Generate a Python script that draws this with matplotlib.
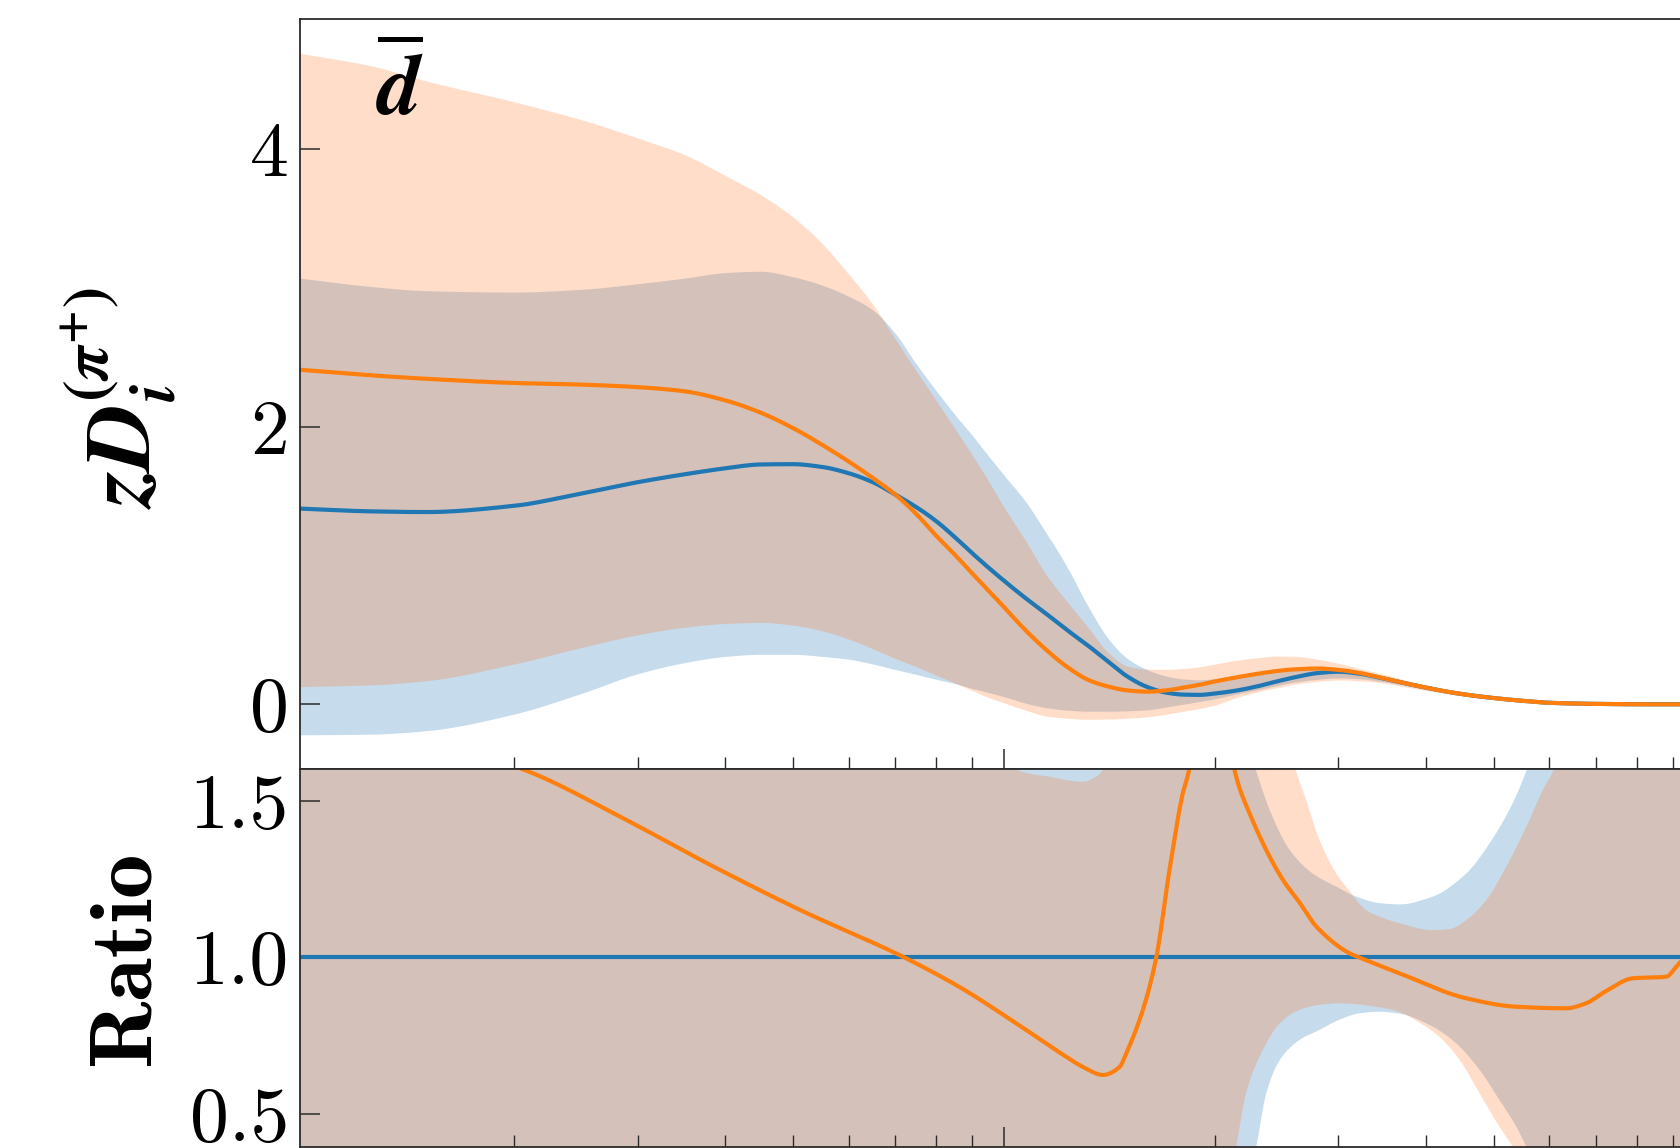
import numpy as np
import matplotlib
matplotlib.use("Agg")
import matplotlib.pyplot as plt
from matplotlib.ticker import LogLocator, NullFormatter, FixedLocator, FixedFormatter

# ---------------- distribution panel: z D(z) with uncertainty bands ----------------
z_grid = [0.0099, 0.0125, 0.015, 0.02, 0.025, 0.03, 0.035, 0.04, 0.045, 0.05,
          0.055, 0.06, 0.065, 0.07, 0.075, 0.08, 0.085, 0.09, 0.095, 0.1,
          0.107, 0.115, 0.123, 0.132, 0.141, 0.15, 0.16, 0.17, 0.18, 0.19,
          0.2, 0.215, 0.23, 0.245, 0.26, 0.28, 0.3, 0.32, 0.345, 0.37,
          0.4, 0.43, 0.46, 0.5, 0.55, 0.6, 0.66, 0.73, 0.82, 0.92, 1.0]

blue_mid = [1.41, 1.39, 1.385, 1.43, 1.52, 1.60, 1.657, 1.70, 1.728, 1.73,
            1.71, 1.665, 1.60, 1.51, 1.42, 1.32, 1.206, 1.09, 0.985, 0.89,
            0.77, 0.65, 0.535, 0.42, 0.305, 0.20, 0.125, 0.085, 0.07, 0.068,
            0.078, 0.10, 0.13, 0.165, 0.195, 0.225, 0.235, 0.222, 0.19, 0.156,
            0.12, 0.09, 0.067, 0.045, 0.025, 0.011, 0.005, 0.002, 0.0, 0.0, 0.0]
blue_hi = [3.07, 3.01, 2.98, 2.97, 2.99, 3.03, 3.07, 3.11, 3.12, 3.08,
           3.02, 2.94, 2.84, 2.67, 2.45, 2.26, 2.09, 1.94, 1.79, 1.65,
           1.47, 1.23, 0.99, 0.70, 0.47, 0.33, 0.25, 0.205, 0.183, 0.177,
           0.185, 0.21, 0.235, 0.255, 0.268, 0.27, 0.255, 0.238, 0.205, 0.17,
           0.132, 0.098, 0.072, 0.048, 0.027, 0.012, 0.006, 0.002, 0.0007, 0.0, 0.0]
blue_lo = [-0.22, -0.215, -0.19, -0.07, 0.08, 0.22, 0.30, 0.345, 0.36, 0.36,
           0.345, 0.325, 0.29, 0.25, 0.215, 0.18, 0.15, 0.115, 0.085, 0.055,
           0.01, -0.025, -0.042, -0.05, -0.05, -0.047, -0.04, -0.02, 0.0, 0.02,
           0.04, 0.075, 0.105, 0.135, 0.16, 0.18, 0.19, 0.185, 0.165, 0.14,
           0.108, 0.08, 0.06, 0.039, 0.022, 0.009, 0.004, 0.001, 0.0, 0.0, 0.0]

orange_mid = [2.41, 2.37, 2.345, 2.315, 2.303, 2.285, 2.255, 2.19, 2.10, 1.99,
              1.87, 1.75, 1.63, 1.51, 1.37, 1.215, 1.08, 0.945, 0.82, 0.70,
              0.54, 0.39, 0.27, 0.175, 0.127, 0.10, 0.091, 0.10, 0.12, 0.14,
              0.165, 0.195, 0.22, 0.24, 0.252, 0.258, 0.248, 0.228, 0.192, 0.156,
              0.12, 0.09, 0.067, 0.045, 0.025, 0.011, 0.005, 0.002, 0.0, 0.0, 0.0]
orange_hi = [4.69, 4.60, 4.49, 4.34, 4.21, 4.08, 3.96, 3.81, 3.67, 3.51,
             3.32, 3.10, 2.88, 2.63, 2.40, 2.19, 1.99, 1.80, 1.61, 1.42,
             1.19, 0.93, 0.74, 0.55, 0.37, 0.275, 0.253, 0.252, 0.258, 0.27,
             0.29, 0.318, 0.336, 0.348, 0.345, 0.325, 0.295, 0.26, 0.22, 0.18,
             0.14, 0.105, 0.078, 0.052, 0.03, 0.014, 0.007, 0.003, 0.001, 0.0, 0.0]
orange_lo = [0.127, 0.14, 0.17, 0.29, 0.41, 0.50, 0.555, 0.582, 0.59, 0.57,
             0.53, 0.47, 0.40, 0.33, 0.27, 0.21, 0.155, 0.10, 0.05, 0.01,
             -0.04, -0.085, -0.10, -0.108, -0.106, -0.10, -0.09, -0.072, -0.05, -0.03,
             -0.005, 0.05, 0.09, 0.12, 0.145, 0.165, 0.175, 0.17, 0.155, 0.13,
             0.10, 0.075, 0.055, 0.036, 0.02, 0.008, 0.003, 0.001, 0.0, 0.0, 0.0]

# ---------------- ratio panel ----------------
ratio_blue_z = [0.0099, 1.0]
ratio_blue = [1.0, 1.0]

ratio_orange_z = [0.0099, 0.015, 0.0209, 0.0289, 0.0385, 0.0512, 0.072, 0.0864,
                  0.1041, 0.1227, 0.1295, 0.1384, 0.1462, 0.1494, 0.1578, 0.1649,
                  0.1722, 0.1799, 0.1835, 0.197, 0.2134, 0.224, 0.25, 0.264,
                  0.279, 0.311, 0.325, 0.3665, 0.4565, 0.538, 0.634, 0.6765,
                  0.72, 0.789, 0.881, 0.91, 1.0]
ratio_orange = [1.75, 1.70, 1.595, 1.439, 1.29, 1.151, 1.0, 0.905,
                0.789, 0.682, 0.65, 0.624, 0.65, 0.693, 0.832, 1.0,
                1.279, 1.524, 1.595, 2.3, 1.595, 1.46, 1.247, 1.175,
                1.098, 1.013, 0.995, 0.949, 0.869, 0.842, 0.837, 0.853,
                0.89, 0.933, 0.938, 0.970, 1.08]

ratio_blue_hi_z = [0.0099, 0.1, 0.2, 0.21, 0.222, 0.229, 0.2394, 0.2556, 0.2755,
                   0.2978, 0.318, 0.3434, 0.3666, 0.409, 0.4565, 0.4997, 0.5345,
                   0.556, 0.58, 0.62, 1.0]
ratio_blue_hi = [3.0, 2.8, 2.2, 1.88, 1.69, 1.595, 1.47, 1.343, 1.268,
                 1.226, 1.194, 1.173, 1.169, 1.194, 1.268, 1.385, 1.503,
                 1.595, 1.71, 1.9, 3.0]
ratio_blue_lo_z = [0.0099, 0.19, 0.205, 0.218, 0.229, 0.2366, 0.2474, 0.264, 0.2818,
                   0.3006, 0.3213, 0.3434, 0.3666, 0.409, 0.4417, 0.477, 0.509,
                   0.538, 0.556, 0.6, 0.7, 1.0]
ratio_blue_lo = [-1.0, -0.5, -0.2, 0.2, 0.395, 0.565, 0.672, 0.736, 0.768,
                 0.80, 0.821, 0.826, 0.82, 0.778, 0.725, 0.64, 0.544,
                 0.459, 0.395, 0.25, -0.2, -1.0]

ratio_orange_hi_z = [0.0099, 0.09, 0.1, 0.1041, 0.1161, 0.1295, 0.1354, 0.1384, 0.145,
                     0.16, 0.2, 0.24, 0.25, 0.261, 0.2697, 0.2818, 0.2978, 0.3075,
                     0.3287, 0.3434, 0.3666, 0.409, 0.432, 0.4565, 0.4875, 0.5206,
                     0.556, 0.587, 0.607, 0.65, 1.0]
ratio_orange_hi = [3.0, 1.9, 1.68, 1.6, 1.577, 1.561, 1.577, 1.6, 1.75,
                   2.2, 2.6, 1.9, 1.75, 1.595, 1.503, 1.375, 1.268, 1.226,
                   1.151, 1.13, 1.109, 1.087, 1.09, 1.119, 1.183, 1.29,
                   1.417, 1.535, 1.595, 1.8, 3.0]
ratio_orange_lo_z = [0.0099, 0.19, 0.2, 0.2145, 0.2214, 0.234, 0.2474, 0.264, 0.2818,
                     0.3006, 0.3434, 0.3666, 0.3875, 0.418, 0.4467, 0.477, 0.509,
                     0.532, 0.6, 0.7, 1.0]
ratio_orange_lo = [-1.0, -0.3, 0.0, 0.395, 0.565, 0.704, 0.789, 0.832, 0.848,
                   0.853, 0.84, 0.825, 0.797, 0.746, 0.672, 0.565, 0.459,
                   0.395, 0.2, -0.3, -1.0]

upper_ticks = [0, 2, 4]
upper_ticklabels = ["0", "2", "4"]
lower_ticks = [0.5, 1.0, 1.5]
lower_ticklabels = ["0.5", "1.0", "1.5"]
x_major_ticks = [0.1, 1.0]

BLUE = "#1f77b4"
ORANGE = "#ff7f0e"
BLUE_BAND = "#1f77b4"
ORANGE_BAND = "#ff7828"
BAND_ALPHA = 0.25
SPINE = "#2b2b2b"
TICK_FONT = "cmr10"
TICK_SIZE = 56


def smooth_log(z, v, n=600):
    """Monotone cubic Hermite curve through (z, v), traced in log10(z)."""
    x = np.log10(np.asarray(z, dtype=float))
    y = np.asarray(v, dtype=float)
    h = np.diff(x)
    d = np.diff(y) / h
    m = np.zeros_like(y)
    m[0], m[-1] = d[0], d[-1]
    for k in range(1, len(y) - 1):
        if d[k - 1] * d[k] > 0:
            w1 = 2 * h[k] + h[k - 1]
            w2 = h[k] + 2 * h[k - 1]
            m[k] = (w1 + w2) / (w1 / d[k - 1] + w2 / d[k])
    xs = np.linspace(x[0], x[-1], n)
    i = np.clip(np.searchsorted(x, xs, side="right") - 1, 0, len(h) - 1)
    t = (xs - x[i]) / h[i]
    h00 = 2 * t**3 - 3 * t**2 + 1
    h10 = t**3 - 2 * t**2 + t
    h01 = -2 * t**3 + 3 * t**2
    h11 = t**3 - t**2
    ys = h00 * y[i] + h10 * h[i] * m[i] + h01 * y[i + 1] + h11 * h[i] * m[i + 1]
    return 10**xs, ys


W, H = 1681, 1148
fig = plt.figure(figsize=(W / 100, H / 100), dpi=100)

left = 300 / W
width = 1405 / W
ax_top = fig.add_axes([left, (H - 769) / H, width, (769 - 19) / H])
ax_bot = fig.add_axes([left, (H - 1146.5) / H, width, (1146.5 - 769) / H])

# distribution panel
zs, b_lo = smooth_log(z_grid, blue_lo)
_, b_hi = smooth_log(z_grid, blue_hi)
_, o_lo = smooth_log(z_grid, orange_lo)
_, o_hi = smooth_log(z_grid, orange_hi)
ax_top.fill_between(zs, b_lo, b_hi, color=BLUE_BAND, alpha=BAND_ALPHA, lw=0)
ax_top.fill_between(zs, o_lo, o_hi, color=ORANGE_BAND, alpha=BAND_ALPHA, lw=0)
ax_top.plot(*smooth_log(z_grid, blue_mid), color=BLUE, lw=3.0)
ax_top.plot(*smooth_log(z_grid, orange_mid), color=ORANGE, lw=3.0)


# ratio panel
def band_polygon(ax, zh, vh, zl, vl, color):
    xh, yh = smooth_log(zh, vh)
    xl, yl = smooth_log(zl, vl)
    ax.fill(np.concatenate([xh, xl[::-1]]), np.concatenate([yh, yl[::-1]]),
            color=color, alpha=BAND_ALPHA, lw=0)


band_polygon(ax_bot, ratio_blue_hi_z, ratio_blue_hi, ratio_blue_lo_z, ratio_blue_lo, BLUE_BAND)
band_polygon(ax_bot, ratio_orange_hi_z, ratio_orange_hi, ratio_orange_lo_z, ratio_orange_lo, ORANGE_BAND)
ax_bot.plot(ratio_blue_z, ratio_blue, color=BLUE, lw=3.0)
ax_bot.plot(*smooth_log(ratio_orange_z, ratio_orange, n=1200), color=ORANGE, lw=3.0)

for ax in (ax_top, ax_bot):
    ax.set_xscale("log")
    ax.set_xlim(0.0099, 1.0)
    ax.xaxis.set_major_locator(FixedLocator(x_major_ticks))
    ax.xaxis.set_minor_locator(LogLocator(base=10, subs=np.arange(2, 10), numticks=20))
    ax.xaxis.set_minor_formatter(NullFormatter())
    ax.tick_params(which="both", direction="in", top=False, right=False,
                   labelbottom=False, color=SPINE)
    ax.tick_params(which="major", length=14.4, width=1.1, pad=8)
    ax.tick_params(which="minor", length=8.5, width=1.0)
    for sp in ax.spines.values():
        sp.set_color(SPINE)
        sp.set_linewidth(1.3)

ax_top.set_ylim(-0.466, 4.937)
ax_top.yaxis.set_major_locator(FixedLocator(upper_ticks))
ax_top.yaxis.set_major_formatter(FixedFormatter(upper_ticklabels))
ax_bot.set_ylim(0.3955, 1.6016)
ax_bot.yaxis.set_major_locator(FixedLocator(lower_ticks))
ax_bot.yaxis.set_major_formatter(FixedFormatter(lower_ticklabels))

for ax in (ax_top, ax_bot):
    for lab in ax.get_yticklabels():
        lab.set_fontfamily(TICK_FONT)
        lab.set_fontsize(TICK_SIZE)

# panel tag and axis titles
ax_top.text(0.0712, 0.872, r"$\overline{\mathbfit{d}}$", transform=ax_top.transAxes,
            ha="center", va="baseline", fontsize=62, math_fontfamily="stix")
fig.text(118 / W, 1 - 398 / H,
         r"$\mathbfit{zD}_{\mathbfit{i}}^{\mathbf{(}\mathbfit{\pi}^{\mathbf{+}}\mathbf{)}}$",
         rotation=90, ha="center", va="center", fontsize=66, math_fontfamily="stix")
fig.text(126 / W, 1 - 958 / H, "Ratio", rotation=90, ha="center", va="center",
         fontsize=64, fontfamily="cmb10")

fig.savefig("out.png", dpi=100)
